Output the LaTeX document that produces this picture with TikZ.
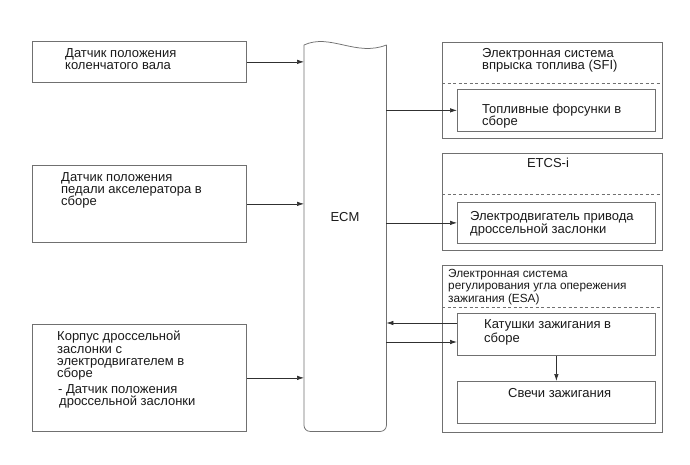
\documentclass[tikz,border=0pt]{standalone}
\usepackage{fontspec}
\setmainfont{Liberation Sans}
\usetikzlibrary{arrows.meta,calc}
\definecolor{boxgray}{HTML}{707070}
\definecolor{txtcol}{HTML}{1A1A1A}
\definecolor{linecol}{HTML}{303030}
\begin{document}
\begin{tikzpicture}[x=1pt,y=-1pt,
  box/.style={draw=boxgray, line width=0.75pt, rectangle, inner sep=0pt, anchor=north west},
  txt/.style={anchor=north west, inner sep=0pt, align=left, text=txtcol, font=\fontsize{13}{12.3}\selectfont},
  smalltxt/.style={txt, font=\fontsize{11.8}{12.5}\selectfont},
  arr/.style={-{Latex[length=7pt,width=4.5pt]}, line width=0.7pt, draw=linecol},
  dsh/.style={draw=boxgray, dash pattern=on 3pt off 2.5pt, line width=0.7pt}]
\useasboundingbox (0,0) rectangle (690,465);
\fill[white] (0,0) rectangle (690,465);

% left boxes
\node[box, minimum width=214pt, minimum height=41pt] (b1) at (32,41) {};
\node[box, minimum width=214pt, minimum height=77pt] (b2) at (32,165) {};
\node[box, minimum width=214pt, minimum height=107pt] (b3) at (32,324) {};
\node[txt] (t1) at (65,48) {Датчик положения\\коленчатого вала};
\node[txt] (t2) at (61,172) {Датчик положения\\педали акселератора в\\сборе};
\node[txt] (t3) at (57,331) {Корпус дроссельной\\заслонки с\\электродвигателем в\\сборе\\[3pt]\hspace*{1pt}- Датчик положения\\\hspace*{2pt}дроссельной заслонки};

% ECM
\node[minimum width=82pt, minimum height=386pt, inner sep=0pt, anchor=north west] (ecm) at (304,45) {};
\draw[boxgray, line width=0.75pt] (ecm.north west) .. controls (330,33) and (356,57) .. (ecm.north east);
\draw[boxgray, line width=0.75pt, rounded corners=6pt] (ecm.north east) -- (ecm.south east) -- (ecm.south west) -- (ecm.north west);
\node[txt, anchor=center] (ecml) at (345,217) {ECM};

% right: SFI
\node[box, minimum width=220pt, minimum height=96pt] (sfi) at (442,42) {};
\draw[dsh] ([yshift=-41pt]sfi.north west) -- ([yshift=-41pt]sfi.north east);
\node[box, minimum width=198pt, minimum height=42pt] (sfiin) at (457,89) {};
\node[txt] (ts1) at (482,48) {Электронная система\\впрыска топлива (SFI)};
\node[txt] (ts2) at (482,104) {Топливные форсунки в\\сборе};

% ETCS
\node[box, minimum width=220pt, minimum height=97pt] (etcs) at (442,153) {};
\draw[dsh] ([yshift=-41pt]etcs.north west) -- ([yshift=-41pt]etcs.north east);
\node[box, minimum width=198pt, minimum height=41pt] (etcsin) at (457,202) {};
\node[txt, anchor=north] (te1) at (548,158) {ETCS-i};
\node[txt] (te2) at (470,211) {Электродвигатель привода\\дроссельной заслонки};

% ESA
\node[box, minimum width=220pt, minimum height=167pt] (esa) at (442,265) {};
\draw[dsh] ([yshift=-42pt]esa.north west) -- ([yshift=-42pt]esa.north east);
\node[box, minimum width=198pt, minimum height=42pt] (kat) at (457,313) {};
\node[box, minimum width=198pt, minimum height=42pt] (sv) at (457,381) {};
\node[smalltxt] (ta1) at (448,269) {Электронная система\\регулирования угла опережения\\зажигания (ESA)};
\node[txt, font=\fontsize{13}{14}\selectfont] (tk) at (484,319) {Катушки зажигания в\\сборе};
\node[txt] (tsv) at (508,388) {Свечи зажигания};

% connectors
\draw[arr] (b1.east) -- (b1.east -| ecm.west);
\draw[arr] (b2.east) -- (b2.east -| ecm.west);
\draw[arr] (b3.east) -- (b3.east -| ecm.west);
\draw[arr] (sfiin.west -| ecm.east) -- (sfiin.west);
\draw[arr] (etcsin.west -| ecm.east) -- (etcsin.west);
\coordinate (k1) at ([yshift=-10pt]kat.north west);
\coordinate (k2) at ([yshift=-29pt]kat.north west);
\draw[arr] (k1) -- (k1 -| ecm.east);
\draw[arr] (k2 -| ecm.east) -- (k2);
\draw[arr] (kat.south) -- (sv.north);
\end{tikzpicture}
\end{document}
